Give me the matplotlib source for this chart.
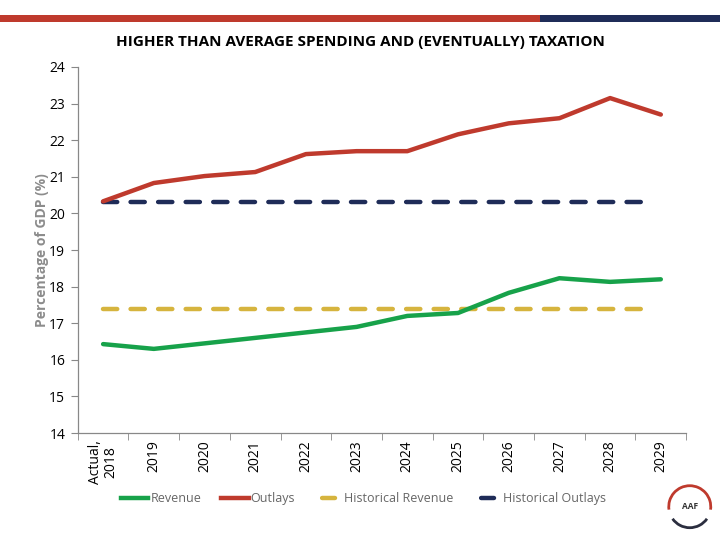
import numpy as np
import matplotlib
matplotlib.use('Agg')
import matplotlib.pyplot as plt
from matplotlib.patches import Arc, Rectangle
from matplotlib.lines import Line2D

years = ['Actual,\n2018', '2019', '2020', '2021', '2022', '2023',
         '2024', '2025', '2026', '2027', '2028', '2029']
revenue = [16.43, 16.30, 16.45, 16.60, 16.75, 16.90, 17.20, 17.28, 17.83, 18.23, 18.13, 18.20]
outlays = [20.33, 20.83, 21.02, 21.13, 21.62, 21.70, 21.70, 22.16, 22.46, 22.60, 23.15, 22.70]
hist_revenue = [17.4] * 12
hist_outlays = [20.3] * 12

green = '#17a24a'
red = '#bf3a2d'
gold = '#d6b43e'
navy = '#1f2c58'
grey = '#888888'

plt.rcParams['font.family'] = ['Open Sans', 'DejaVu Sans']

fig = plt.figure(figsize=(7.2, 5.4), dpi=100)
ax = fig.add_axes([0.108, 0.198, 0.845, 0.678])

x = np.arange(len(years))
# the historical averages stop a little short of the last category
hist_x = np.append(x[:-1], x[-2] + 0.7)

ax.plot(x, revenue, color=green, lw=3.2, solid_capstyle='round', zorder=4)
ax.plot(x, outlays, color=red, lw=3.2, solid_capstyle='round', zorder=4)
ax.plot(hist_x, hist_revenue, color=gold, lw=3.2, dashes=(3.2, 3.0),
        dash_capstyle='round', zorder=3)
ax.plot(hist_x, hist_outlays, color=navy, lw=3.2, dashes=(3.2, 3.0),
        dash_capstyle='round', zorder=3)

ax.set_xlim(-0.5, len(years) - 0.5)
ax.set_ylim(14, 24)
ax.set_yticks(np.arange(14, 25, 1))
ax.tick_params(axis='y', labelsize=10, length=5, color=grey, pad=4)
ax.set_xticks(x)
ax.set_xticklabels(years, rotation=90, fontsize=10, linespacing=1.0)
ax.tick_params(axis='x', length=0, pad=5)
ax.set_xticks(np.arange(-0.5, len(years), 1), minor=True)
ax.tick_params(axis='x', which='minor', length=5, color=grey)
for s in ['top', 'right']:
    ax.spines[s].set_visible(False)
for s in ['left', 'bottom']:
    ax.spines[s].set_color(grey)
    ax.spines[s].set_linewidth(0.9)
ax.set_ylabel('Percentage of GDP (%)', color='#8c8c8c', fontsize=10,
              fontweight='bold', labelpad=0)

# legend: solid handles for the projections, a single short dash for the averages
one_dash = (21.3, (2.9, 20))
handles = [
    Line2D([], [], color=green, lw=3.2),
    Line2D([], [], color=red, lw=3.2),
    Line2D([], [], color=gold, lw=3.2, linestyle=one_dash, dash_capstyle='round'),
    Line2D([], [], color=navy, lw=3.2, linestyle=one_dash, dash_capstyle='round'),
]
labels = ['Revenue', 'Outlays', 'Historical Revenue', 'Historical Outlays']
leg = fig.legend(handles, labels, loc='center', bbox_to_anchor=(0.505, 0.076), ncol=4,
                 frameon=False, fontsize=9, handlelength=2.2, handletextpad=0.15,
                 columnspacing=1.6)
for t in leg.get_texts():
    t.set_color('#666666')

# top banner
fig.add_artist(Rectangle((0, 0.960), 0.75, 0.012, transform=fig.transFigure,
                         color=red, lw=0))
fig.add_artist(Rectangle((0.75, 0.960), 0.25, 0.012, transform=fig.transFigure,
                         color=navy, lw=0))
fig.text(0.5, 0.922, 'HIGHER THAN AVERAGE SPENDING AND (EVENTUALLY) TAXATION',
         ha='center', va='center', fontsize=11, fontweight='bold', color='black')

# logo
lax = fig.add_axes([0.923, 0.015, 0.07, 0.0933])
lax.set_xlim(-1.2, 1.2)
lax.set_ylim(-1.2, 1.2)
lax.set_aspect('equal')
lax.axis('off')
lax.add_patch(Arc((0, 0), 2, 2, theta1=-8, theta2=188, color=red, lw=2))
lax.add_patch(Arc((0, 0), 2, 2, theta1=215, theta2=325, color='#2b2e3f', lw=2))
lax.text(0, 0, 'AAF', ha='center', va='center', fontsize=6, fontweight='bold', color='#333333')

fig.savefig('out.png', dpi=100)
